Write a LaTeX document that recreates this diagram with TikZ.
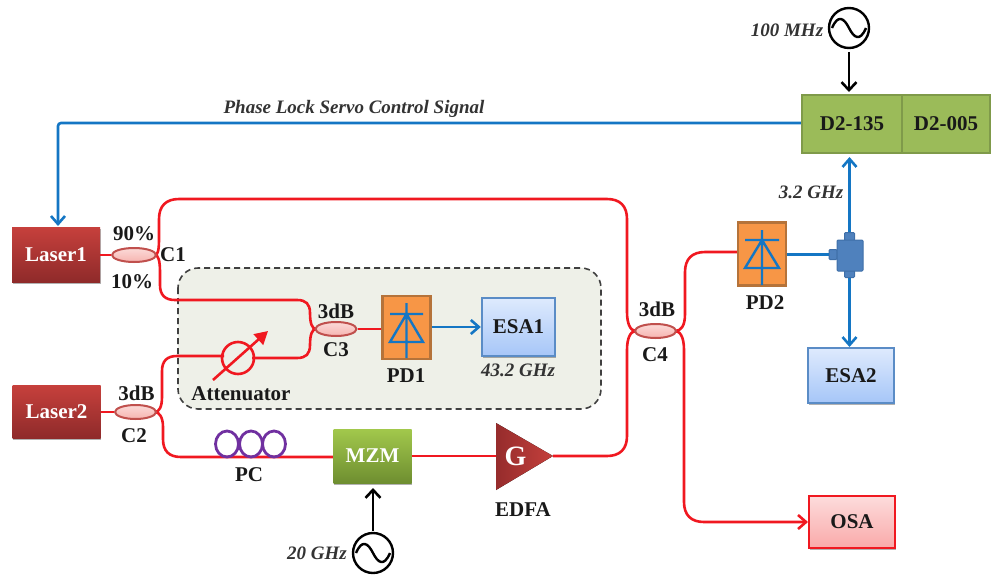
\documentclass[tikz,border=0pt]{standalone}
\usepackage{fontspec}
\setmainfont{Liberation Serif}
\usetikzlibrary{arrows.meta,shapes.geometric,shadows}
\definecolor{fib}{HTML}{F01820}
\definecolor{sig}{HTML}{1476C4}
\definecolor{laserT}{HTML}{C6403C}\definecolor{laserB}{HTML}{8E2A2A}
\definecolor{esaD}{HTML}{5A8CC6}\definecolor{esaT}{HTML}{DEEAFD}\definecolor{esaB}{HTML}{A6C6F8}
\definecolor{pdD}{HTML}{B5733A}\definecolor{pdF}{HTML}{F79646}
\definecolor{cpD}{HTML}{C0504D}\definecolor{cpT}{HTML}{FBDAD8}\definecolor{cpB}{HTML}{F6B4B0}
\definecolor{dD}{HTML}{7F9A4A}\definecolor{dF}{HTML}{9BBB59}
\definecolor{pcC}{HTML}{7030A0}\definecolor{spD}{HTML}{3F6FA8}\definecolor{spF}{HTML}{4F81BD}
\definecolor{encl}{HTML}{EEF0E8}
\definecolor{mzT}{HTML}{A2C84C}\definecolor{mzB}{HTML}{6E8E30}
\definecolor{osT}{HTML}{FDDCDC}\definecolor{osB}{HTML}{F9A9A9}
\definecolor{gL}{HTML}{962C2C}\definecolor{gR}{HTML}{C4403C}
\tikzset{
  every node/.style={font=\fontsize{21}{24}\selectfont\bfseries,text=black!90,inner sep=0pt},
  ital/.style={font=\fontsize{19}{22}\selectfont\bfseries\itshape,text=black!80},
  shad/.style={drop shadow={shadow xshift=0.5pt,shadow yshift=-1.5pt,opacity=0.3,fill=black}},
  fiber/.style={draw=fib,line width=2.6pt,line join=round},
  fiberarrow/.style={fiber,-{Straight Barb[length=8pt,width=14pt,line width=2.6pt]}},
  sigline/.style={draw=sig,line width=2.6pt},
  sigarrow/.style={sigline,-{Straight Barb[length=8pt,width=14pt,line width=2.6pt]}},
  blackarrow/.style={draw=black,line width=2.6pt,-{Straight Barb[length=8pt,width=15pt,line width=2.6pt]}},
  laserbox/.style={rectangle,minimum width=88,minimum height=55,top color=laserT,bottom color=laserB,text=white,shad},
  esabox/.style={rectangle,draw=esaD,line width=2.4pt,top color=esaT,bottom color=esaB,minimum width=73,minimum height=58,shad},
  pdbox/.style={rectangle,draw=pdD,line width=2.4pt,fill=pdF,minimum width=48,minimum height=63},
  coupler/.style={ellipse,draw=cpD,line width=2pt,top color=cpT,bottom color=cpB,minimum width=41,minimum height=14},
  diode/.style={draw=sig,line width=2.4pt},
  srccircle/.style={circle,draw=black,line width=2.4pt,minimum size=40,fill=white},
  dbox/.style={rectangle,draw=dD,line width=2.4pt,fill=dF,minimum width=100,minimum height=58},
  pcloop/.style={draw=pcC,line width=2.8pt},
  split/.style={rectangle,draw=spD,line width=1pt,fill=spF,rounded corners=1},
}
\begin{document}
\begin{tikzpicture}[x=1pt,y=-1pt]
\useasboundingbox (0,0) rectangle (992,578);
% dashed enclosure
\draw[dash pattern=on 6pt off 4pt,draw=black!75,line width=1.6pt,fill=encl,rounded corners=20] (178,268) rectangle (601,409);
% fibres (drawn beneath the nodes they join)
\coordinate (gin) at (496,456);
\coordinate (gout) at (553,456);
\coordinate (att1) at (224,356);
\coordinate (att2) at (252,358);
\coordinate (mzin) at (334,457);
\coordinate (pdin) at (738,252);
\coordinate (c1a) at (155,255);
\coordinate (c2a) at (155,412);
\coordinate (c3a) at (316,329);
\coordinate (c4a) at (636,331);
\coordinate (c4b) at (675,331);
\draw[fiber] (c1a) .. controls (158,255) and (159,250) .. (159,238) -- (159,219) .. controls (159,206) and (166,199) .. (179,199) -- (607,199) .. controls (620,199) and (627,206) .. (627,219) -- (627,312) .. controls (627,323) and (630,331) .. (c4a);
\draw[fiber] (c1a) .. controls (158,255) and (160,260) .. (160,272) -- (160,285) .. controls (160,295) and (165,300) .. (175,300) -- (297,300) .. controls (306,300) and (310,304) .. (310,313) .. controls (310,323) and (312,329) .. (c3a);
\draw[fiber] (c2a) .. controls (159,412) and (162,407) .. (162,397) -- (162,371) .. controls (162,361) and (167,356) .. (177,356) -- (att1);
\draw[fiber] (att2) -- (297,358) .. controls (306,358) and (310,354) .. (310,345) .. controls (310,335) and (312,329) .. (c3a);
\draw[fiber] (c2a) .. controls (159,412) and (163,417) .. (163,427) -- (163,439) .. controls (163,451) and (169,457) .. (181,457) -- (mzin);
\draw[fiber] (gout) -- (607,456) .. controls (620,456) and (627,449) .. (627,436) -- (627,350) .. controls (627,339) and (630,331) .. (c4a);
\draw[fiber] (c4b) .. controls (681,331) and (685,326) .. (685,314) -- (685,272) .. controls (685,259) and (692,252) .. (705,252) -- (pdin);
\draw[fiberarrow] (c4b) .. controls (680,331) and (684,337) .. (684,350) -- (684,502) .. controls (684,515) and (691,522) .. (704,522) -- (808,522);
% nodes
\node[laserbox] (l1) at (56,255) {Laser1};
\node[laserbox,minimum height=53] (l2) at (56.5,412) {Laser2};
\node[coupler,minimum width=44] (c1) at (134,255) {};
\node[coupler] (c2) at (135.5,412) {};
\node[coupler] (c3) at (336,329) {};
\node[coupler] (c4) at (655.5,331) {};
\node[pdbox] (pd1) at (406.5,327.5) {};
\node[pdbox] (pd2) at (762,254) {};
\node[esabox] (esa1) at (518.5,327) {ESA1};
\node[esabox,minimum width=86,minimum height=55] (esa2) at (851,375.5) {ESA2};
\node[rectangle,draw=fib,line width=2.8pt,top color=osT,bottom color=osB,minimum width=86,minimum height=52,shad] (osa) at (852,522) {OSA};
\node[rectangle,minimum width=78,minimum height=54,top color=mzT,bottom color=mzB,text=white,shad] (mzm) at (372.5,456) {MZM};
\node[dbox] (d1) at (852,124) {D2-135};
\node[dbox,minimum width=88] (d2) at (946,124) {D2-005};
% EDFA
\fill[left color=gL,right color=gR] (496,423) -- (553,456) -- (496,490) -- cycle;
\node[text=white,font=\fontsize{28}{30}\selectfont\bfseries] (g) at (515.5,456) {G};
\draw[fiber] (mzm.east) -- (gin);
\draw[fiber] (l1.east) -- (c1.west);
\draw[fiber] (l2.east) -- (c2.west);
\draw[fiber] (c3.east) -- (pd1.west |- c3.east);
% PC
\foreach \n/\cx in {a/227,b/251,c/274}{\draw[pcloop] (\cx,444) ellipse [x radius=11.5,y radius=13];}
% attenuator
\node[circle,draw=fib,line width=2.6pt,minimum size=32] (att) at (238,358) {};
\coordinate (atts) at (213,380);
\coordinate (atte) at (268,331);
\draw[draw=fib,line width=2.6pt,-{Triangle[length=13pt,width=14pt]}] (atts) -- (atte);
% diodes
\draw[diode] (406.5,303) -- (406.5,358) (390,314) -- (423,314) (406.5,314) -- (390,342) -- (423,342) -- cycle;
\draw[diode] (762,230) -- (762,285) (745,240) -- (779,240) (762,240) -- (745,268) -- (779,268) -- cycle;
% splitter
\node[split,minimum width=10,minimum height=8] (st) at (849.5,236.5) {};
\node[split,minimum width=10,minimum height=7] (sb) at (849.5,274) {};
\node[split,minimum width=8,minimum height=10] (sl) at (833,254.5) {};
\node[split,minimum width=26,minimum height=31] (sp) at (850,255.5) {};
% blue links
\draw[sigarrow] (pd1.east |- esa1.west) -- (esa1.west);
\draw[sigline,line width=2.2pt] (pd2.east |- sl.west) -- (sl.west);
\draw[sigarrow] (st.north) -- (849.5,157);
\draw[sigarrow] (sb.south) -- (849.5,347);
\coordinate (feed) at (58,226);
\draw[sigarrow,rounded corners=3] (d1.west |- 0,123) -- (58,123) -- (feed);
% sources
\node[srccircle] (s1) at (849,28) {};
\node[srccircle] (s2) at (373,553) {};
\draw[line width=2.4pt] (832,28) .. controls (838,14) and (844,18) .. (849,28) .. controls (854,38) and (860,42) .. (866,28);
\draw[line width=2.4pt] (356,553) .. controls (362,539) and (368,543) .. (373,553) .. controls (378,563) and (384,567) .. (390,553);
\draw[blackarrow] (849,52) -- (849,92);
\draw[blackarrow] (373,531) -- (373,488);
% labels
\node (t90) at (134,234) {90\%};
\node (tc1) at (173,255) {C1};
\node (t10) at (132,282) {10\%};
\node (t3a) at (136.5,393) {3dB};
\node (tc2) at (134,436) {C2};
\node (tat) at (241,394) {Attenuator};
\node (t3b) at (336,311) {3dB};
\node (tc3) at (336,350) {C3};
\node (tpd1) at (406,376) {PD1};
\node[ital] (tghz) at (518,370) {43.2 GHz};
\node (tpc) at (249,475) {PC};
\node (ted) at (523,510) {EDFA};
\node[ital] (t20) at (317,553) {20 GHz};
\node (t3c) at (657,309) {3dB};
\node (tc4) at (655,355) {C4};
\node (tpd2) at (765,303) {PD2};
\node[ital] (t32) at (811,192) {3.2 GHz};
\node[ital] (t100) at (787,30) {100 MHz};
\node[ital] (tph) at (354,109) {Phase Lock Servo Control Signal};
\end{tikzpicture}
\end{document}
